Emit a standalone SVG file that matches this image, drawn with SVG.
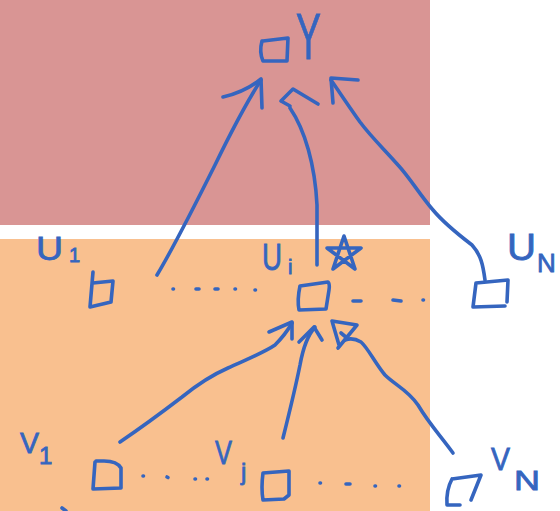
<svg xmlns="http://www.w3.org/2000/svg" width="560" height="511" viewBox="0 0 560 511">
<style>
.ink{fill:none;stroke:#3565bf;stroke-width:3.6;stroke-linecap:round;stroke-linejoin:round}
.lbl{fill:#3565bf;stroke:#3565bf;stroke-width:0.8;font-family:"Liberation Sans",Arial,sans-serif}
</style>
<rect x="0" y="0" width="430" height="225" fill="#d99594"/>
<rect x="0" y="239" width="430" height="272" fill="#f9c08f"/>

<g id="connectors" class="ink">
  <!-- U1 -> Y -->
  <path d="M157,275 C175,245 195,205 215,165 C232,130 248,100 261,80"/>
  <path d="M223,97 Q245,92 261,79 L262,108"/>
  <!-- Ui -> Y -->
  <path d="M317,265 L317,205 C315,165 305,130 290,108"/>
  <path d="M281,101 L293,89 L318,104 M281,101 L290,106"/>
  <!-- UN -> Y -->
  <path d="M485,280 C483,265 481,255 472,245 C455,232 443,222 433,210 C420,195 410,178 398,165 C385,150 372,138 360,122 C350,108 340,93 331,80"/>
  <path d="M358,80 L331,78 L333,103"/>
  <!-- V1 -> Ui -->
  <path d="M120,442 C145,425 165,410 182,397 C198,384 212,375 228,368 C250,358 265,352 275,345 C282,338 288,330 292,323"/>
  <path d="M269,332 L292,322 L292,339"/>
  <!-- Vj -> Ui -->
  <path d="M283,438 C290,410 296,385 300,365 C303,348 308,335 315,327"/>
  <path d="M299,342 L314,327 L322,340"/>
  <!-- VN -> Ui -->
  <path d="M453,453 C440,435 430,425 418,405 C408,390 395,385 385,375 C375,363 368,348 361,342 C356,339 350,338 345,340"/>
  <path d="M332,321 L357,325 L338,348 M332,321 L339,345 M341,333 L347,338"/>
  <!-- dots -->
  <path d="M173,289 L173.5,289 M196,289 L199,289 M215,289 L218,289 M235,289 L235.5,289 M255,290 L255.5,290"/>
  <path d="M353,301 L361,301 M393,300 L401,301 M423,300 L423.5,300"/>
  <path d="M143,476 L143.5,476 M167,477 L168,477.5 M195,479 L195.5,479 M207,479 L207.5,479"/>
  <path d="M320,483 L320.5,483 M346,484 L350,484 M375,486 L375.5,486 M399,486 L399.5,486"/>
  <path d="M62,508 L66,511"/>
</g>

<g id="Y">
  <path class="ink" d="M263,41 L288,38 L287,61 L263,61 Q259,52 262,41"/>
  <text class="lbl" x="296" y="59" font-size="64" textLength="25" lengthAdjust="spacingAndGlyphs">Y</text>
</g>

<g id="U1">
  <path class="ink" d="M93,272 L90,307 L111,302 M93,283 L113,281 L111,302"/>
  <text class="lbl" x="36" y="260" font-size="34" textLength="27" lengthAdjust="spacingAndGlyphs">U</text>
  <text class="lbl" x="69" y="262" font-size="20">1</text>
</g>

<g id="Ui">
  <path class="ink" d="M300,286 L328,282 Q330,284 329,290 L326,309 L299,310 Q297,300 300,286 Z"/>
  <text class="lbl" x="262" y="270" font-size="36" textLength="20" lengthAdjust="spacingAndGlyphs">U</text>
  <text class="lbl" x="288" y="274" font-size="20">i</text>
  <path class="ink" d="M344,236 L333,269 L361,248 L327,248 L355,269 Z"/>
</g>

<g id="UN">
  <path class="ink" d="M476,283 L508,280 L507,302 M476,283 L473,307 L505,306"/>
  <text class="lbl" x="507" y="260" font-size="36" textLength="29" lengthAdjust="spacingAndGlyphs">U</text>
  <text class="lbl" x="537" y="272" font-size="26">N</text>
</g>

<g id="V1">
  <path class="ink" d="M95,462 L93,489 L121,488 L121,468 Q117,461 104,461 L96,461"/>
  <text class="lbl" x="20" y="453" font-size="30" textLength="19" lengthAdjust="spacingAndGlyphs">V</text>
  <text class="lbl" x="39" y="464" font-size="24">1</text>
</g>

<g id="Vj">
  <path class="ink" d="M263,473 L289,471 L289,495 L284,499 L263,500 Q261,488 263,473 Z"/>
  <text class="lbl" x="215" y="464" font-size="34" textLength="17" lengthAdjust="spacingAndGlyphs">V</text>
  <text class="lbl" x="241" y="480" font-size="24">j</text>
</g>

<g id="VN">
  <path class="ink" d="M452,479 L481,475 L471,500 M452,479 Q446,490 447,505 L460,505"/>
  <text class="lbl" x="491" y="470" font-size="32" textLength="19" lengthAdjust="spacingAndGlyphs">V</text>
  <text class="lbl" x="514" y="490" font-size="28" textLength="26" lengthAdjust="spacingAndGlyphs">N</text>
</g>
</svg>
